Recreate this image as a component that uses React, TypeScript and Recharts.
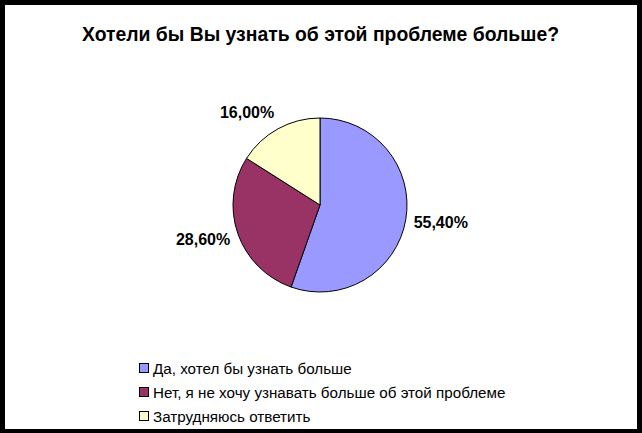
import React from "react";
import { PieChart, Pie, Cell, Legend } from "recharts";

const categories = [
  "Да, хотел бы узнать больше",
  "Нет, я не хочу узнавать больше об этой проблеме",
  "Затрудняюсь ответить",
];
const values = [55.4, 28.6, 16.0];
const colors = ["#9999FF", "#993366", "#FFFFCC"];
const title = "Хотели бы Вы узнать об этой проблеме больше?";

const data = categories.map((name, i) => ({ name, value: values[i] }));

const fmt = (v: number) => v.toFixed(2).replace(".", ",") + "%";

const RAD = Math.PI / 180;

const renderLabel = (props: any) => {
  const { cx, cy, midAngle, outerRadius, value } = props;
  const R = outerRadius + 8;
  const c = Math.cos(-midAngle * RAD);
  const s = Math.sin(-midAngle * RAD);
  const x = cx + R * c;
  const y = cy + R * s + 10 * s;
  return (
    <text
      x={x}
      y={y}
      textAnchor={c >= 0 ? "start" : "end"}
      dominantBaseline="central"
      fontFamily="'Liberation Sans', Arial, sans-serif"
      fontWeight="bold"
      fontSize={16}
      fill="#000"
    >
      {fmt(value)}
    </text>
  );
};

const renderLegend = () => (
  <div style={{ fontFamily: "'Liberation Sans', Arial, sans-serif", fontSize: 15.2, color: "#000" }}>
    {categories.map((name, i) => (
      <div key={name} style={{ display: "flex", alignItems: "center", height: 24, whiteSpace: "nowrap" }}>
        <span
          style={{
            display: "inline-block",
            width: 8,
            height: 8,
            border: "1px solid #000",
            background: colors[i],
            marginRight: 4,
          }}
        />
        <span>{name}</span>
      </div>
    ))}
  </div>
);

export default function App() {
  return (
    <div style={{ position: "absolute", left: 0, top: 0, width: 642, height: 433, background: "#fff" }}>
      <div
        style={{
          position: "absolute",
          left: 0,
          top: 0,
          width: 642,
          height: 433,
          boxSizing: "border-box",
          borderTop: "5px solid #000",
          borderLeft: "5px solid #000",
          borderRight: "5px solid #000",
          borderBottom: "4px solid #000",
        }}
      />
      <svg style={{ position: "absolute", left: 0, top: 0 }} width={642} height={60}>
        <text
          x={82}
          y={41}
          textLength={477}
          lengthAdjust="spacingAndGlyphs"
          fontFamily="'Liberation Sans', Arial, sans-serif"
          fontWeight="bold"
          fontSize={20}
          fill="#000"
        >
          {title}
        </text>
      </svg>
      <div style={{ position: "absolute", left: 0, top: 0 }}>
        <PieChart width={642} height={433} margin={{ top: 0, right: 0, bottom: 0, left: 0 }}>
          <Pie
            data={data}
            dataKey="value"
            nameKey="name"
            cx={320}
            cy={205}
            outerRadius={87}
            startAngle={90}
            endAngle={-270}
            stroke="#000"
            strokeWidth={1}
            label={renderLabel}
            labelLine={false}
            isAnimationActive={false}
          >
            {data.map((d, i) => (
              <Cell key={d.name} fill={colors[i]} />
            ))}
          </Pie>
          <Legend
            content={renderLegend}
            wrapperStyle={{ position: "absolute", left: 139, top: 356, width: 420, bottom: "auto", right: "auto" }}
          />
        </PieChart>
      </div>
    </div>
  );
}
